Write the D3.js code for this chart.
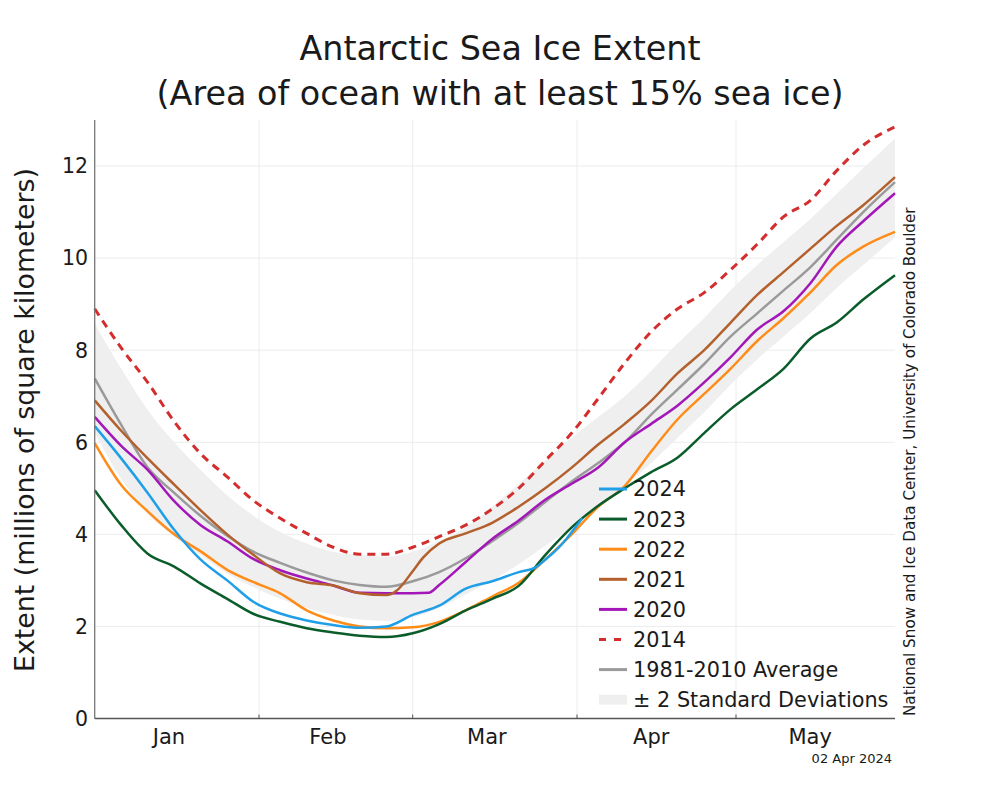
<!DOCTYPE html>
<html>
<head>
<meta charset="utf-8">
<script src="https://cdn.jsdelivr.net/npm/d3@7"></script>
<style>
  html, body { margin: 0; padding: 0; background: #fff; }
  svg { display: block; font-family: "DejaVu Sans", sans-serif; }
</style>
</head>
<body>
<svg id="chart" width="1000" height="800"></svg>
<script>
// ---- Data (day index: 0 = Jan 1; values in millions of km^2) ----
const days = [0,5,10,15,20,25,30,35,40,45,50,55,60,65,70,75,80,85,90,95,100,105,110,115,120,125,130,135,140,145,151];
const avg1981_2010 = [7.39,6.38,5.45,4.9,4.4,3.97,3.62,3.38,3.17,3.0,2.9,2.86,2.98,3.18,3.48,3.85,4.25,4.7,5.15,5.55,6.0,6.6,7.15,7.7,8.3,8.8,9.3,9.8,10.4,11.0,11.65];
const stdUpper = [8.58,7.6,6.7,6.0,5.4,4.85,4.4,4.05,3.8,3.62,3.55,3.52,3.62,3.85,4.15,4.6,5.1,5.6,6.1,6.55,7.0,7.55,8.15,8.7,9.3,9.85,10.35,10.85,11.4,11.95,12.6];
const stdLower = [6.2,5.2,4.45,3.95,3.55,3.15,2.85,2.6,2.4,2.25,2.15,2.12,2.2,2.4,2.7,3.0,3.35,3.75,4.15,4.6,5.05,5.55,6.1,6.65,7.25,7.8,8.3,8.8,9.35,9.85,10.45];
const y2014 = [8.9,8.05,7.3,6.45,5.75,5.25,4.73,4.35,4.02,3.72,3.57,3.57,3.72,3.95,4.2,4.55,5.0,5.6,6.2,6.95,7.72,8.4,8.9,9.25,9.75,10.3,10.9,11.25,11.9,12.45,12.85];
const y2023 = [4.96,4.2,3.58,3.3,2.93,2.6,2.27,2.1,1.96,1.87,1.8,1.77,1.85,2.05,2.35,2.6,2.88,3.55,4.15,4.62,5.0,5.35,5.67,6.2,6.72,7.15,7.6,8.25,8.6,9.1,9.63];
const y2022 = [5.98,5.07,4.5,4.0,3.63,3.23,2.96,2.72,2.35,2.13,2.0,1.96,1.98,2.1,2.35,2.65,2.95,3.45,4.0,4.6,5.05,5.8,6.5,7.05,7.6,8.2,8.7,9.25,9.85,10.25,10.57];
const days2021 = [0,5,10,15,20,25,30,35,40,45,50,55,57,60,62,65,70,75,80,85,90,95,100,105,110,115,120,125,130,135,140,145,151];
const y2021 = [6.91,6.25,5.65,5.08,4.52,4.0,3.55,3.15,2.96,2.89,2.72,2.68,2.78,3.2,3.5,3.8,4.02,4.25,4.6,5.0,5.45,5.95,6.4,6.9,7.5,8.0,8.6,9.2,9.7,10.2,10.7,11.15,11.76];
const days2020 = [0,5,10,15,20,25,30,35,40,45,50,55,60,63,65,70,75,80,85,90,95,100,105,110,115,120,125,130,135,140,145,151];
const y2020 = [6.55,5.92,5.4,4.72,4.2,3.85,3.46,3.22,3.04,2.89,2.73,2.72,2.72,2.73,2.9,3.4,3.9,4.3,4.75,5.1,5.45,6.0,6.4,6.8,7.3,7.85,8.45,8.85,9.45,10.25,10.8,11.41];
const days2024 = [0,5,10,15,20,25,30,35,40,45,50,55,60,65,70,75,80,83,85,87,89,91,92];
const y2024 = [6.35,5.65,4.9,4.1,3.45,3.0,2.53,2.28,2.13,2.03,1.97,2.0,2.25,2.45,2.82,2.98,3.18,3.27,3.45,3.65,3.9,4.2,4.35];

const monthNames = ["Jan","Feb","Mar","Apr","May"];
const monthStarts = [0,31,60,91,121];
const monthLabelDays = [14,44,74,105,135];
const yTicks = [0,2,4,6,8,10,12];

const legendLabels = ["2024","2023","2022","2021","2020","2014","1981-2010 Average","\u00b1 2 Standard Deviations"];
const legendColors = ["#1f9fe8","#0b5c2b","#ff8c19","#b3602d","#a317b8","#d42d2d","#9a9a9a","#efefef"];

// ---- Layout ----
const svg = d3.select("#chart");
const plotL = 94.7, plotR = 895, plotT = 120, plotB = 718.5;
const x = d3.scaleLinear().domain([0,151]).range([plotL,plotR]);
const y = d3.scaleLinear().domain([0,13]).range([plotB,plotT]);

svg.append("rect").attr("width",1000).attr("height",800).attr("fill","#fff");

// Grid
const grid = svg.append("g");
grid.selectAll("line.h").data(yTicks.filter(d=>d>0)).enter().append("line")
  .attr("x1",plotL).attr("x2",plotR).attr("y1",d=>y(d)).attr("y2",d=>y(d))
  .attr("stroke","#ececec").attr("stroke-width",1);
grid.selectAll("line.v").data(monthStarts.slice(1)).enter().append("line")
  .attr("x1",d=>x(d)).attr("x2",d=>x(d)).attr("y1",plotT).attr("y2",plotB)
  .attr("stroke","#ececec").attr("stroke-width",1);

// Band
const band = days.map((d,i)=>({d, lo: stdLower[i], hi: stdUpper[i]}));
svg.append("path").datum(band)
  .attr("d", d3.area().x(p=>x(p.d)).y0(p=>y(p.lo)).y1(p=>y(p.hi)).curve(d3.curveMonotoneX))
  .attr("fill","#efefef");

const line = d3.line().x(p=>x(p[0])).y(p=>y(p[1])).curve(d3.curveMonotoneX);
function series(ds, vs, color, width, dash) {
  const p = svg.append("path").datum(ds.map((d,i)=>[d, vs[i]]))
    .attr("d", line).attr("fill","none").attr("stroke",color)
    .attr("stroke-width",width).attr("stroke-linejoin","round");
  if (dash) p.attr("stroke-dasharray", dash);
}
series(days, avg1981_2010, legendColors[6], 2.5);
series(days, y2014, legendColors[5], 3, "8,6");
series(days2020, y2020, legendColors[4], 2.5);
series(days2021, y2021, legendColors[3], 2.5);
series(days, y2022, legendColors[2], 2.5);
series(days, y2023, legendColors[1], 2.5);
series(days2024, y2024, legendColors[0], 2.5);

// Axes
svg.append("line").attr("x1",plotL).attr("x2",plotL).attr("y1",plotT).attr("y2",plotB)
  .attr("stroke","#777").attr("stroke-width",1.3);
svg.append("line").attr("x1",plotL).attr("x2",plotR).attr("y1",plotB).attr("y2",plotB)
  .attr("stroke","#555").attr("stroke-width",1.3);
svg.selectAll("line.tick").data(monthStarts.slice(1)).enter().append("line")
  .attr("x1",d=>x(d)).attr("x2",d=>x(d)).attr("y1",plotB).attr("y2",plotB-4)
  .attr("stroke","#555").attr("stroke-width",1);

svg.selectAll("text.ytick").data(yTicks).enter().append("text")
  .attr("x",88).attr("y",d=>y(d)).attr("dy","0.36em")
  .attr("text-anchor","end").attr("font-size",20.5).attr("fill","#1a1a1a")
  .text(d=>d);

svg.selectAll("text.month").data(monthNames).enter().append("text")
  .attr("x",(d,i)=>x(monthLabelDays[i])).attr("y",744)
  .attr("text-anchor","middle").attr("font-size",21).attr("fill","#1a1a1a")
  .text(d=>d);

// Titles
svg.append("text").attr("x",500).attr("y",60).attr("text-anchor","middle")
  .attr("font-size",33.4).attr("fill","#1a1a1a").text("Antarctic Sea Ice Extent");
svg.append("text").attr("x",500).attr("y",105).attr("text-anchor","middle")
  .attr("font-size",33.4).attr("fill","#1a1a1a").text("(Area of ocean with at least 15% sea ice)");

svg.append("text").attr("transform","translate(34,420) rotate(-90)")
  .attr("text-anchor","middle").attr("font-size",26.8).attr("fill","#1a1a1a")
  .text("Extent (millions of square kilometers)");

svg.append("text").attr("transform","translate(915,716) rotate(-90)")
  .attr("text-anchor","start").attr("font-size",15.2).attr("fill","#1a1a1a")
  .text("National Snow and Ice Data Center, University of Colorado Boulder");

svg.append("text").attr("x",892).attr("y",763).attr("text-anchor","end")
  .attr("font-size",13).attr("fill","#1a1a1a").text("02 Apr 2024");

// Legend
const lg = svg.append("g");
legendLabels.forEach((lab,i)=>{
  const cy = 489 + i*30.1;
  if (i === 7) {
    lg.append("rect").attr("x",599).attr("y",cy-5).attr("width",28).attr("height",10).attr("fill",legendColors[i]);
  } else {
    const l = lg.append("line").attr("x1",599).attr("x2",627).attr("y1",cy).attr("y2",cy)
      .attr("stroke",legendColors[i]).attr("stroke-width",3);
    if (i === 5) l.attr("stroke-dasharray","7,8");
  }
  lg.append("text").attr("x",633).attr("y",cy).attr("dy","0.36em")
    .attr("font-size",20.8).attr("fill","#1a1a1a").text(lab);
});
</script>
</body>
</html>
